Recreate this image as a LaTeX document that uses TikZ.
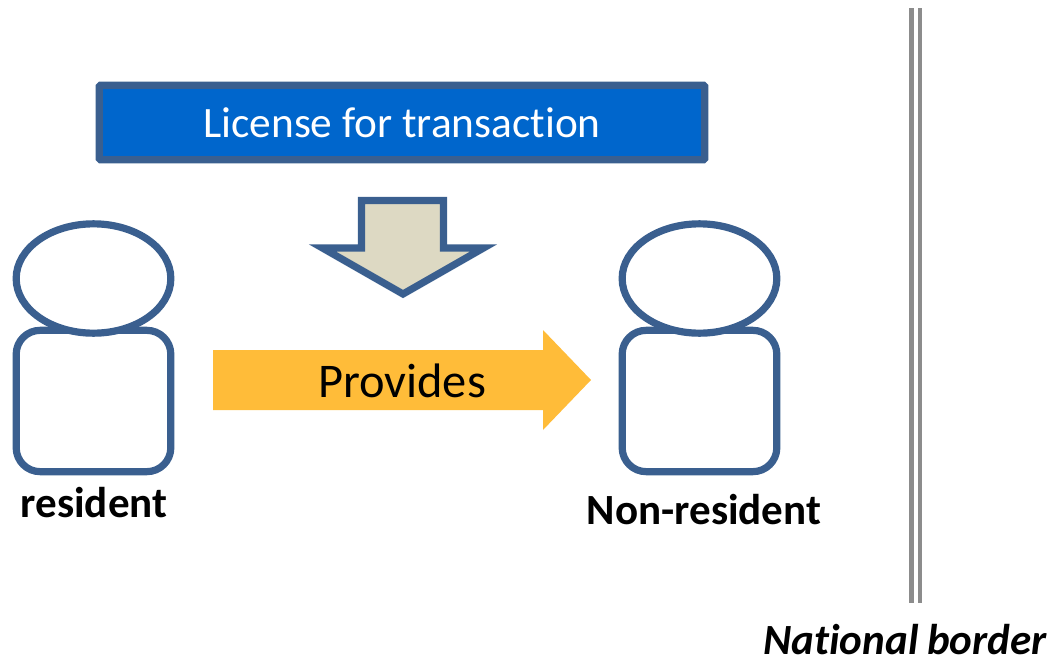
\documentclass[tikz,border=0pt]{standalone}
\usepackage{fontspec}
\setmainfont{Carlito}[Ligatures=NoCommon]
\usepackage{xcolor}
\usetikzlibrary{positioning,shapes}
\definecolor{edgeblue}{HTML}{3A5F8F}
\definecolor{boxblue}{HTML}{0066CC}
\definecolor{tan}{HTML}{DDD9C3}
\definecolor{amber}{HTML}{FFBC39}
\definecolor{bordergray}{HTML}{8C8C8C}
\tikzset{
  headnode/.style={draw=edgeblue, fill=white, ellipse, line width=5.4pt, inner sep=0pt, minimum width=116pt, minimum height=82pt},
  bodynode/.style={draw=edgeblue, fill=white, rounded corners=18pt, line width=5.4pt, inner sep=0pt, minimum width=116pt, minimum height=106pt},
  labelnode/.style={inner sep=0pt, font=\bfseries\fontsize{32.3}{36}\selectfont}
}

\begin{document}
\begin{tikzpicture}[x=.75pt,y=-.75pt]
  \useasboundingbox (0,0) rectangle (1051,657);

  \node (license) [draw=edgeblue, fill=boxblue, rounded corners=1pt, line width=5.4pt, inner sep=0pt,
    minimum width=454pt, minimum height=56pt, text=white, font=\fontsize{32.5}{36}\selectfont] at (402,122.5) {\raisebox{-2pt}{License for transaction}};

  % down arrow and provides arrow
  \draw[edgeblue, fill=tan, line width=5.4pt] (361.5,200.5) -- (443.5,200.5) -- (443.5,248) -- (483.5,248)
    -- (403,294) -- (322.5,248) -- (361.5,248) -- cycle;
  \fill[amber] (213,350) -- (543,350) -- (543,330) -- (591,380) -- (543,430) -- (543,410) -- (213,410) -- cycle;
  \node (provides) [inner sep=0pt, font=\fontsize{36.3}{40}\selectfont] at (402,381) {Provides};

  \foreach \name/\x in {left/93.5, right/699.5} {
    \node (body\name) [bodynode] at (\x,401) {};
    \node (head\name) [headnode] at (\x,278.5) {};
  }

  \node (resident) [labelnode] at (94,503) {resident};
  \node (nonresident) [labelnode] at (704,510) {Non-resident};

  \coordinate (bordertop) at (915.5,8);
  \coordinate (borderend) at (915.5,603);
  \draw[bordergray, line width=3.4pt, double=white, double distance=3pt] (bordertop) -- (borderend);
  \node (border) [labelnode, font=\bfseries\itshape\fontsize{32.3}{36}\selectfont] at (905,640) {National\hspace{-1pt} border};
\end{tikzpicture}
\end{document}
